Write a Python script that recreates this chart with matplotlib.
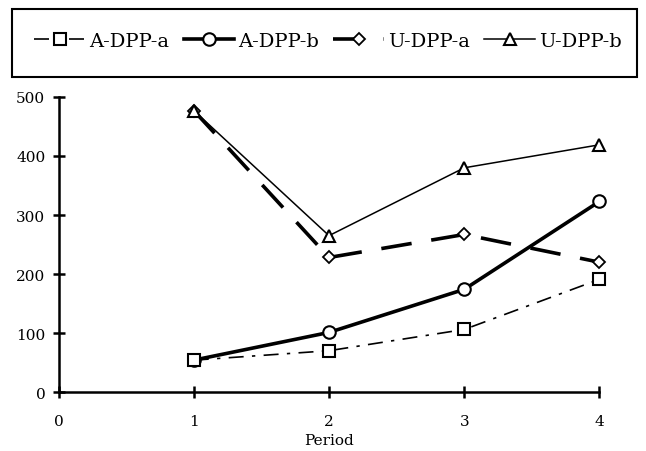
import matplotlib
matplotlib.use("Agg")
import matplotlib.pyplot as plt
from matplotlib.patches import Rectangle

# values
periods = [1, 2, 3, 4]
a_dpp_a = [54, 70, 106, 191]
a_dpp_b = [54, 101, 174, 323]
u_dpp_a = [477, 228, 267, 220]
u_dpp_b = [477, 265, 380, 419]

series_names = ["A-DPP-a", "A-DPP-b", "U-DPP-a", "U-DPP-b"]
x_ticks = [0, 1, 2, 3, 4]
y_ticks = [0, 100, 200, 300, 400, 500]

plt.rcParams["font.family"] = ["DejaVu Serif"]

fig = plt.figure(figsize=(6.46, 4.52), dpi=100)
ax = fig.add_axes([0.0906, 0.1305, 0.8374, 0.6527])

# style for each series (dash patterns are in units of line width)
mk = dict(markerfacecolor="white", markeredgecolor="black", color="black", clip_on=False)
l1, = ax.plot(periods, a_dpp_a, linestyle=(0, (9, 5, 2, 5)), linewidth=1.2,
              marker="s", markersize=9, markeredgewidth=1.5, zorder=4, **mk)
l2, = ax.plot(periods, a_dpp_b, linestyle="-", linewidth=2.6,
              marker="o", markersize=9, markeredgewidth=1.5, zorder=3, **mk)
l3, = ax.plot(periods, u_dpp_a, linestyle=(0, (8.5, 5.5)), linewidth=2.6,
              marker="D", markersize=6.5, markeredgewidth=1.3, zorder=3, **mk)
l4, = ax.plot(periods, u_dpp_b, linestyle="-", linewidth=1.1,
              marker="^", markersize=9, markeredgewidth=1.5, zorder=4, **mk)

ax.set_xlim(0, 4)
ax.set_ylim(0, 500)
ax.set_xticks(x_ticks)
ax.set_yticks(y_ticks)
for s in ["top", "right"]:
    ax.spines[s].set_visible(False)
for s in ["left", "bottom"]:
    ax.spines[s].set_linewidth(1.8)
ax.tick_params(axis="both", direction="inout", length=9, width=1.8, labelsize=11)
ax.tick_params(axis="y", pad=5)
ax.tick_params(axis="x", pad=11)
ax.set_xlabel("Period", fontsize=11, labelpad=4)

# legend box across the top
fig.patches.append(Rectangle((12 / 646, 1 - 78 / 452), 625 / 646, 68 / 452,
                             transform=fig.transFigure, fill=False,
                             edgecolor="black", linewidth=1.5))
fig.legend([l1, l2, l3, l4], series_names, loc="center",
           bbox_to_anchor=(328 / 646, 1 - 42 / 452), ncol=4, frameon=False,
           fontsize=14, handlelength=2.6, handletextpad=0.2, columnspacing=0.75,
           borderaxespad=0)

fig.savefig("out.png", dpi=100)
